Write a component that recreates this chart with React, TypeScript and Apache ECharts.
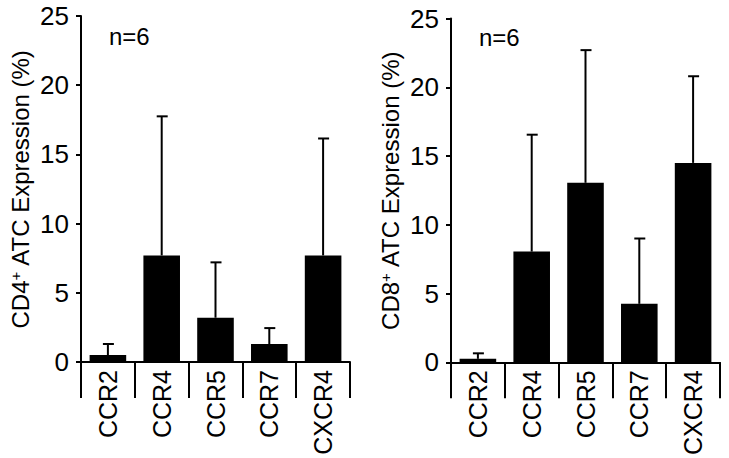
import React, { useEffect, useRef } from "react";
import * as echarts from "echarts";

const categories = ["CCR2", "CCR4", "CCR5", "CCR7", "CXCR4"];
const cd4Values = [0.5, 7.7, 3.2, 1.3, 7.7];
const cd4Upper = [1.3, 17.75, 7.2, 2.45, 16.15];
const cd8Values = [0.25, 8.05, 13.05, 4.25, 14.5];
const cd8Upper = [0.65, 16.55, 22.7, 9.0, 20.8];
const yTicks = { min: 0, max: 25, interval: 5 };
const cd4Label = "{a|CD4}{s|+}{a| ATC Expression (%)}";
const cd8Label = "{a|CD8}{s|+}{a| ATC Expression (%)}";
const nLabel = "n=6";

const FONT = "'Liberation Sans', Arial, Helvetica, sans-serif";

export default function App() {
  const ref = useRef<HTMLDivElement>(null);
  useEffect(() => {
    if (!ref.current) return;
    const chart = echarts.init(ref.current, undefined, { renderer: "svg" });
    const grids = [
      { left: 81, top: 16, width: 269, height: 346 },
      { left: 451, top: 18.5, width: 269, height: 346.5 },
    ];
    const names = [cd4Label, cd8Label];
    const vals = [cd4Values, cd8Values];
    const ups = [cd4Upper, cd8Upper];
    const xAxes = grids.map((_, i) => ({
      type: "category",
      gridIndex: i,
      data: categories,
      boundaryGap: true,
      axisLine: { show: true, lineStyle: { color: "#000", width: 2 } },
      axisTick: { show: true, interval: 0, length: 36, lineStyle: { color: "#000", width: 2 } },
      axisLabel: { interval: 0, rotate: 90, margin: 8, color: "#000", fontSize: 25, fontFamily: FONT },
      splitLine: { show: false },
    }));
    const yAxes = grids.map((_, i) => ({
      type: "value",
      gridIndex: i,
      min: yTicks.min,
      max: yTicks.max,
      interval: yTicks.interval,
      name: names[i],
      nameLocation: "middle",
      nameRotate: 90,
      nameGap: 48,
      nameTextStyle: {
        color: "#000",
        fontFamily: FONT,
        rich: {
          a: { fontSize: 24, fontFamily: FONT, color: "#000" },
          s: { fontSize: 15, fontFamily: FONT, color: "#000", verticalAlign: "top", padding: [0, 0, 10, 0] },
        },
      },
      axisLine: { show: true, lineStyle: { color: "#000", width: 2 } },
      axisTick: { show: true, length: 5, lineStyle: { color: "#000", width: 2 } },
      axisLabel: { margin: 12, color: "#000", fontSize: 26, fontFamily: FONT },
      splitLine: { show: false },
    }));
    const series: any[] = [];
    grids.forEach((_, i) => {
      series.push({
        type: "bar",
        xAxisIndex: i,
        yAxisIndex: i,
        data: vals[i],
        barWidth: "68%",
        itemStyle: { color: "#000" },
        z: 2,
      });
      series.push({
        type: "custom",
        xAxisIndex: i,
        yAxisIndex: i,
        data: categories.map((_, k) => [k, vals[i][k], ups[i][k]]),
        z: 3,
        renderItem: (params: any, api: any) => {
          const x = api.value(0);
          const p0 = api.coord([x, api.value(1)]);
          const p1 = api.coord([x, api.value(2)]);
          const st = { stroke: "#000", lineWidth: 2 };
          return {
            type: "group",
            children: [
              { type: "line", shape: { x1: p0[0], y1: p0[1], x2: p1[0], y2: p1[1] }, style: st },
              { type: "line", shape: { x1: p1[0] - 5, y1: p1[1], x2: p1[0] + 6, y2: p1[1] }, style: st },
            ],
          };
        },
      });
    });
    chart.setOption({
      animation: false,
      backgroundColor: "#fff",
      grid: grids,
      xAxis: xAxes,
      yAxis: yAxes,
      series,
      graphic: [
        { type: "text", left: 109, top: 24, style: { text: nLabel, fontSize: 24, fontFamily: FONT, fill: "#000" } },
        { type: "text", left: 479, top: 25, style: { text: nLabel, fontSize: 24, fontFamily: FONT, fill: "#000" } },
      ],
    });
    return () => chart.dispose();
  }, []);
  return <div ref={ref} style={{ position: "absolute", left: 0, top: 0, width: 729, height: 458 }} />;
}
